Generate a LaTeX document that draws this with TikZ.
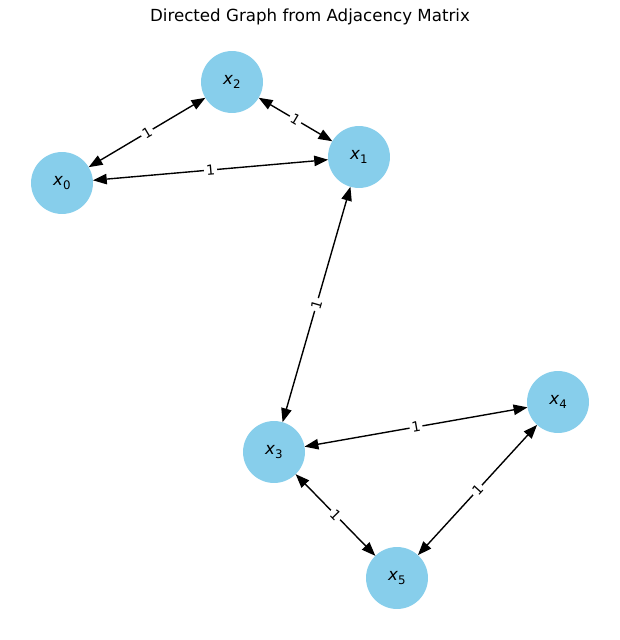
\documentclass[tikz,border=0pt]{standalone}
\usepackage{fontspec}
\setmainfont{DejaVu Sans}
\usetikzlibrary{arrows.meta}
\definecolor{skyblue}{RGB}{135,206,235}

\newcommand{\xvar}[1]{\textit{x}\raisebox{-0.35ex}{\fontsize{8.5}{10}\selectfont #1}}

\begin{document}
\begin{tikzpicture}[
  x=0.72pt, y=-0.72pt,
  vertex/.style={circle, fill=skyblue, minimum size=44.6pt, inner sep=0pt, outer sep=0pt, font=\fontsize{12}{14}\selectfont},
  link/.style={{Triangle[length=10pt,width=7.5pt]}-{Triangle[length=10pt,width=7.5pt]}, line width=1pt},
  weight/.style={midway, sloped, fill=white, inner sep=1.5pt, font=\fontsize{10}{12}\selectfont}
]
\useasboundingbox (0,0) rectangle (619,640);
\node[font=\fontsize{12}{14}\selectfont] (title) at (310,17) {Directed Graph from Adjacency Matrix};

\node[vertex] (x0) at (62,183) {\xvar{0}};
\node[vertex] (x1) at (359,157) {\xvar{1}};
\node[vertex] (x2) at (232,82) {\xvar{2}};
\node[vertex] (x3) at (274,452) {\xvar{3}};
\node[vertex] (x4) at (558,402) {\xvar{4}};
\node[vertex] (x5) at (397,578) {\xvar{5}};

\draw[link] (x0) -- node[weight] {1} (x2);
\draw[link] (x2) -- node[weight] {1} (x1);
\draw[link] (x0) -- node[weight] {1} (x1);
\draw[link] (x1) -- node[weight] {1} (x3);
\draw[link] (x3) -- node[weight] {1} (x4);
\draw[link] (x4) -- node[weight] {1} (x5);
\draw[link] (x3) -- node[weight] {1} (x5);

\end{tikzpicture}
\end{document}
